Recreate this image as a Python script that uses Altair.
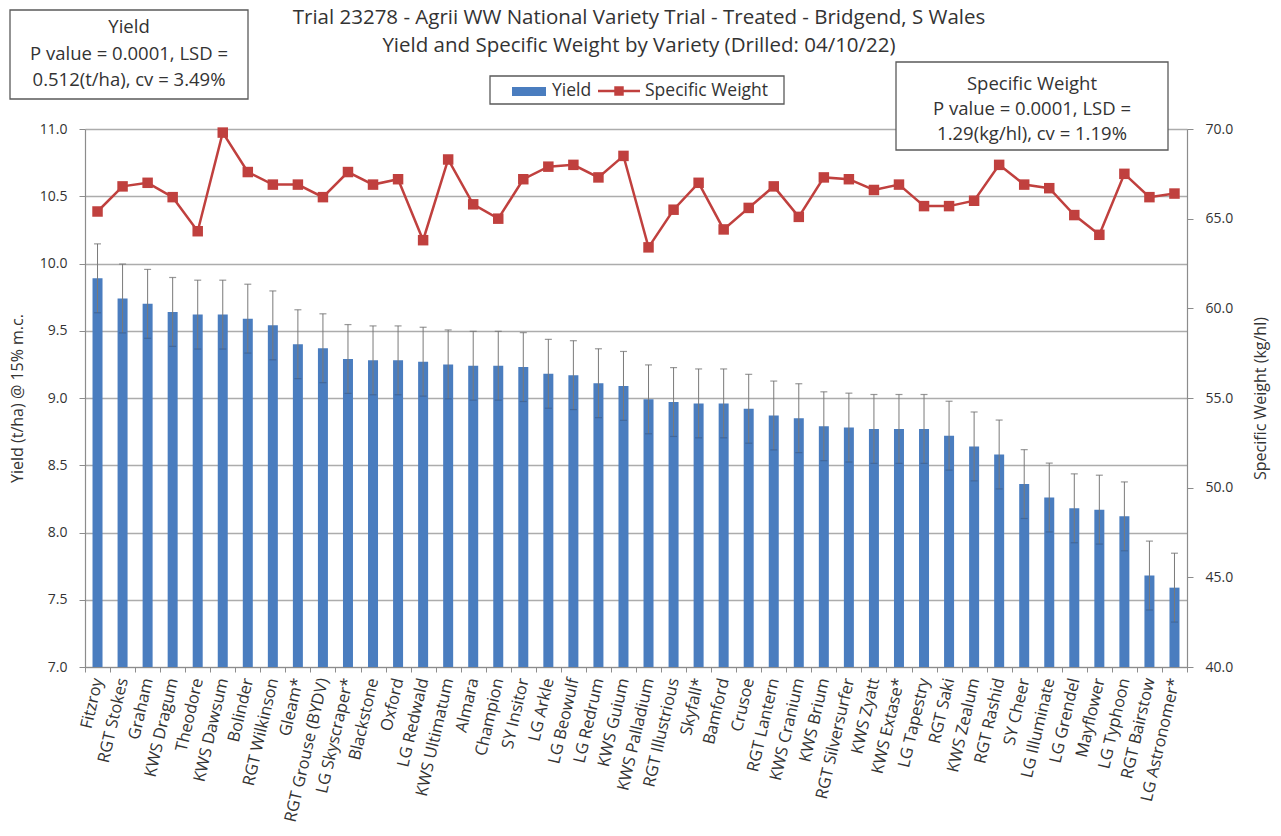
import altair as alt
import pandas as pd

varieties = [
    "Fitzroy", "RGT Stokes", "Graham", "KWS Dragum", "Theodore", "KWS Dawsum",
    "Bolinder", "RGT Wilkinson", "Gleam*", "RGT Grouse (BYDV)", "LG Skyscraper*",
    "Blackstone", "Oxford", "LG Redwald", "KWS Ultimatum", "Almara", "Champion",
    "SY Insitor", "LG Arkle", "LG Beowulf", "LG Redrum", "KWS Guium",
    "KWS Palladium", "RGT Illustrious", "Skyfall*", "Bamford", "Crusoe",
    "RGT Lantern", "KWS Cranium", "KWS Brium", "RGT Silversurfer", "KWS Zyatt",
    "KWS Extase*", "LG Tapestry", "RGT Saki", "KWS Zealum", "RGT Rashid",
    "SY Cheer", "LG Illuminate", "LG Grendel", "Mayflower", "LG Typhoon",
    "RGT Bairstow", "LG Astronomer*",
]
yield_tha = [
    9.89, 9.74, 9.70, 9.64, 9.62, 9.62, 9.59, 9.54, 9.40, 9.37, 9.29,
    9.28, 9.28, 9.27, 9.25, 9.24, 9.24, 9.23, 9.18, 9.17, 9.11, 9.09,
    8.99, 8.97, 8.96, 8.96, 8.92, 8.87, 8.85, 8.79, 8.78, 8.77,
    8.77, 8.77, 8.72, 8.64, 8.58, 8.36, 8.26, 8.18, 8.17, 8.12,
    7.68, 7.59,
]
specific_weight = [
    65.4, 66.8, 67.0, 66.2, 64.3, 69.8, 67.6, 66.9, 66.9, 66.2, 67.6,
    66.9, 67.2, 63.8, 68.3, 65.8, 65.0, 67.2, 67.9, 68.0, 67.3, 68.5,
    63.4, 65.5, 67.0, 64.4, 65.6, 66.8, 65.1, 67.3, 67.2, 66.6,
    66.9, 65.7, 65.7, 66.0, 68.0, 66.9, 66.7, 65.2, 64.1, 67.5,
    66.2, 66.4,
]
lsd_yield = 0.512
left_ticks = [7.0, 7.5, 8.0, 8.5, 9.0, 9.5, 10.0, 10.5, 11.0]
right_ticks = [40, 45, 50, 55, 60, 65, 70]

title_lines = [
    "Trial 23278 - Agrii WW National Variety Trial - Treated - Bridgend, S Wales",
    "Yield and Specific Weight by Variety (Drilled: 04/10/22)",
]
yield_box = ["Yield", "P value = 0.0001, LSD =", "0.512(t/ha), cv = 3.49%"]
sw_box = ["Specific Weight", "P value = 0.0001, LSD =", "1.29(kg/hl), cv = 1.19%"]

df = pd.DataFrame({"Variety": varieties, "Yield": yield_tha, "SW": specific_weight})
one = pd.DataFrame({"k": [0]})

FONT = "Open Sans"
BLUE = "#4a7dbf"
RED = "#c0403e"
GRID = "#acacac"
AX = "#8c8c8c"
TXT = "#333333"

xscale = alt.Scale(paddingInner=0, paddingOuter=0)
x_axis = alt.X(
    "Variety:N", sort=varieties, scale=xscale,
    axis=alt.Axis(
        title=None, labelAngle=-77, labelFontSize=16.5, labelFont=FONT,
        labelColor=TXT, tickBand="extent", tickSize=5, tickColor=AX,
        domainColor=AX, domainWidth=1.2, labelPadding=6, grid=False,
        labelOverlap=False,
    ),
)

yscale = alt.Scale(domain=[7, 11], nice=False, zero=False)
y_axis = alt.Axis(
    orient="left", values=left_ticks, format=".1f", labelFontSize=14,
    labelFont=FONT, labelColor=TXT, tickSize=6, tickColor=AX, domainColor=AX,
    domainWidth=1.2, grid=True, gridColor=GRID, gridWidth=1.5,
    labelPadding=12, title="Yield (t/ha) @ 15% m.c.", titleFont=FONT,
    titleFontSize=16, titleFontWeight="normal", titleColor=TXT, titlePadding=14,
)

base = alt.Chart(df)
bars = base.mark_bar(size=10, color=BLUE).encode(
    x=x_axis,
    y=alt.Y("Yield:Q", scale=yscale, axis=y_axis),
    y2=alt.datum(7),
)
errs = base.transform_calculate(
    lo=f"datum.Yield - {lsd_yield}/2", hi=f"datum.Yield + {lsd_yield}/2"
)
err_rule = errs.mark_rule(color="#7a7a7a", strokeWidth=1).encode(
    x=x_axis, y=alt.Y("lo:Q", scale=yscale), y2="hi:Q"
)
cap_top = errs.mark_tick(color="#6e6e6e", size=7, thickness=1.2).encode(
    x=x_axis, y=alt.Y("hi:Q", scale=yscale)
)
cap_bot = errs.mark_tick(color="#3d5f8f", size=7, thickness=1.2).encode(
    x=x_axis, y=alt.Y("lo:Q", scale=yscale)
)

OX, OY = 85, 129  # page offset of plot area


def txt(s, x, y, size=18.5, align="center"):
    return alt.Chart(one).mark_text(
        text=s, font=FONT, fontSize=size, align=align, baseline="middle", color=TXT
    ).encode(x=alt.value(x - OX), y=alt.value(y - OY))


def box(x1, y1, x2, y2):
    return alt.Chart(one).mark_rect(
        fill="white", stroke="#5a5a5a", strokeWidth=1.3
    ).encode(x=alt.value(x1 - OX), x2=alt.value(x2 - OX),
             y=alt.value(y1 - OY), y2=alt.value(y2 - OY))


annots = [
    txt(title_lines[0], 639, 18, 20.5),
    txt(title_lines[1], 639, 46, 20.5),
    box(10, 10, 248, 99),
    txt(yield_box[0], 129, 27),
    txt(yield_box[1], 129, 54),
    txt(yield_box[2], 129, 80),
    box(896, 62, 1168, 150),
    txt(sw_box[0], 1032, 84),
    txt(sw_box[1], 1032, 109),
    txt(sw_box[2], 1032, 134),
    box(490, 76, 784, 104),
    alt.Chart(one).mark_rect(fill=BLUE).encode(
        x=alt.value(512 - OX), x2=alt.value(546 - OX),
        y=alt.value(87 - OY), y2=alt.value(96 - OY)),
    txt("Yield", 552, 91, 17.5, "left"),
    alt.Chart(one).mark_rule(color=RED, strokeWidth=2.5).encode(
        x=alt.value(598 - OX), x2=alt.value(640 - OX), y=alt.value(91 - OY)),
    alt.Chart(one).mark_point(shape="square", filled=True, size=90, color=RED, opacity=1).encode(
        x=alt.value(619 - OX), y=alt.value(91 - OY)),
    txt("Specific Weight", 645, 91, 17.5, "left"),
]

left = alt.layer(bars, err_rule, cap_bot, cap_top)

rscale = alt.Scale(domain=[40, 70], nice=False, zero=False)
r_axis = alt.Axis(
    orient="right", values=right_ticks, format=".1f", labelFontSize=14,
    labelFont=FONT, labelColor=TXT, tickSize=6, tickColor=AX, domainColor=AX,
    domainWidth=1.2, grid=False, labelPadding=12,
    title="Specific Weight (kg/hl)", titleFont=FONT, titleFontSize=16,
    titleFontWeight="normal", titleColor=TXT, titleAngle=270, titlePadding=36,
)
line = base.mark_line(color=RED, strokeWidth=2.5).encode(
    x=x_axis, y=alt.Y("SW:Q", scale=rscale, axis=r_axis)
)
pts = base.mark_point(shape="square", filled=True, size=110, color=RED, opacity=1).encode(
    x=x_axis, y=alt.Y("SW:Q", scale=rscale)
)
right = alt.layer(line, pts, *annots)

chart = alt.layer(left, right).resolve_scale(y="independent").properties(
    width=1102, height=538,
    padding={"left": OX, "top": OY, "right": 1281 - 1187, "bottom": 836 - 667},
    autosize=alt.AutoSizeParams(type="none"),
    background="white",
).configure_view(stroke=None)

chart.save("out.html", embed_options={"renderer": "svg", "actions": False})
